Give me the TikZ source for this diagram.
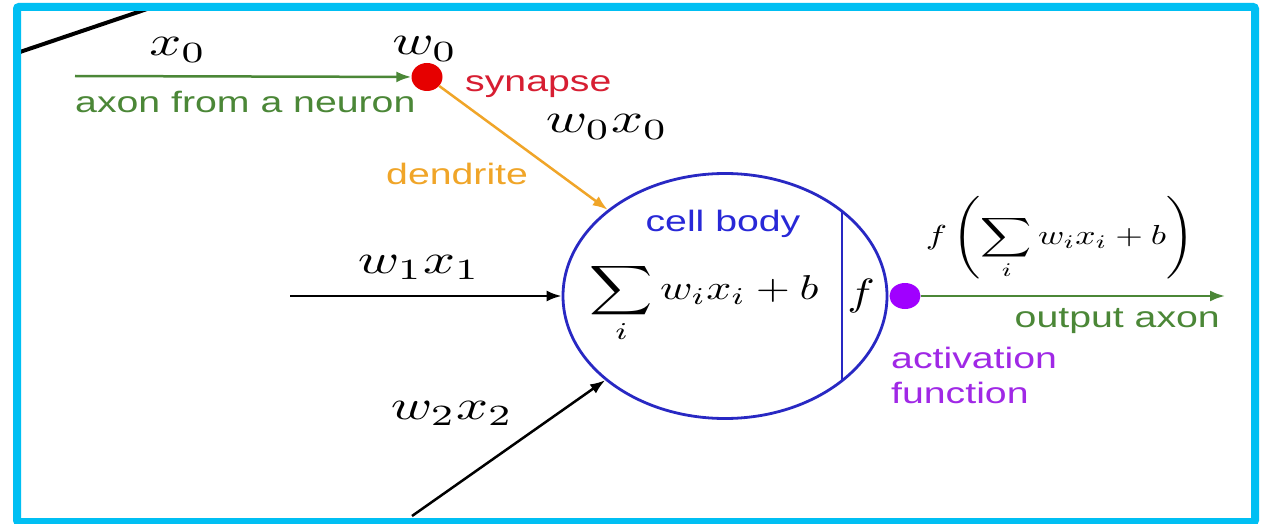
\documentclass[tikz,border=0pt]{standalone}
\usepackage{fontspec}
\usepackage{graphicx}
\newfontfamily\labfont[FakeStretch=1.33]{Liberation Sans}
\usetikzlibrary{arrows.meta,calc,shapes.geometric}
\definecolor{bordercyan}{RGB}{0,191,243}
\definecolor{axgreen}{RGB}{75,135,55}
\definecolor{synred}{RGB}{230,0,0}
\definecolor{syntext}{RGB}{215,30,50}
\definecolor{dendorange}{RGB}{240,165,40}
\definecolor{cellblue}{RGB}{40,40,195}
\definecolor{celltext}{RGB}{40,40,215}
\definecolor{actpurple}{RGB}{160,0,255}
\definecolor{acttext}{RGB}{160,40,230}
% math scaled from 10pt: horizontal factor, vertical factor
\newcommand\mlab[1]{\scalebox{5.6}[4.2]{$#1$}}
\newcommand\mform[3]{\scalebox{#1}[#2]{$\displaystyle #3$}}
\tikzset{
  sans/.style={font={\labfont\fontsize{29.5}{35}\selectfont}, inner sep=0pt},
  mathlab/.style={inner sep=0pt, anchor=base},
  arr/.style={-{Latex[length=15pt,width=11pt]}, line width=2.5pt},
  dotnode/.style={ellipse, inner sep=0pt, draw=none},
}
\begin{document}
\begin{tikzpicture}[x=1pt,y=-1pt]
\useasboundingbox (0,0) rectangle (1264,524);
\fill[white] (0,0) rectangle (1264,524);
% stray black line at top left
\draw[line width=4pt, black] (17,53) -- (153,7);
% cell body
\node[ellipse, draw=cellblue, line width=2.8pt, minimum width=324, minimum height=245, inner sep=0pt] (cell) at (725,296) {};
\draw[cellblue, line width=2.8pt] ($(cell.center)+(117,-85)$) -- ($(cell.center)+(117,85)$);
% synapse and activation dots
\node[dotnode, fill=synred, minimum width=31, minimum height=28] (syn) at (427,77) {};
\node[dotnode, fill=actpurple, minimum width=31, minimum height=26] (act) at (905,296) {};
% coordinates of free ends
\coordinate (a0) at (75,76);
\coordinate (in1) at (290,296);
\coordinate (in2) at (412,516);
\coordinate (out) at (1225,296);
% connectors
\draw[arr, axgreen] (a0) -- (syn);
\draw[arr, dendorange] (syn) -- (cell);
\draw[arr, black] (in1) -- (cell);
\draw[arr, black] (in2) -- (cell);
\draw[arr, axgreen] (act) -- (out);
% math labels
\node[mathlab] (lx0) at (178,56) {\mlab{x_0}};
\node[mathlab] (lw0) at (425,55) {\mlab{w_0}};
\node[mathlab] (lw0x0) at (607,133) {\mlab{w_0x_0}};
\node[mathlab] (lw1x1) at (419,273) {\mlab{w_1x_1}};
\node[mathlab] (lw2x2) at (452,419) {\mlab{w_2x_2}};
\node[mathlab] (sum) at (704,299) {\mform{4.39}{3.45}{\sum_i w_i x_i + b}};
\node[mathlab] (fl) at (861,305) {\mform{4.6}{3.8}{f}};
\node[inner sep=0pt] (outl) at (1060,238) {\mform{3.55}{2.75}{f\left(\sum_i w_i x_i + b\right)}};
% text labels
\node[sans, anchor=base west, text=syntext] (tsyn) at (465,92) {synapse};
\node[sans, anchor=base west, text=axgreen] (tax) at (75,113) {axon from a neuron};
\node[sans, anchor=base west, text=dendorange] (tden) at (386,185) {dendrite};
\node[sans, anchor=base, text=celltext] (tcell) at (723,231) {cell body};
\node[sans, anchor=base east, text=axgreen] (tout) at (1220,327) {output axon};
\node[sans, anchor=base west, text=acttext] (tact1) at (891,368) {activation};
\node[sans, anchor=base west, text=acttext] (tact2) at (891,403) {function};
% frame
\draw[bordercyan, line width=8pt, rounded corners=2pt] (17,7) rectangle (1255,522);
\end{tikzpicture}
\end{document}
